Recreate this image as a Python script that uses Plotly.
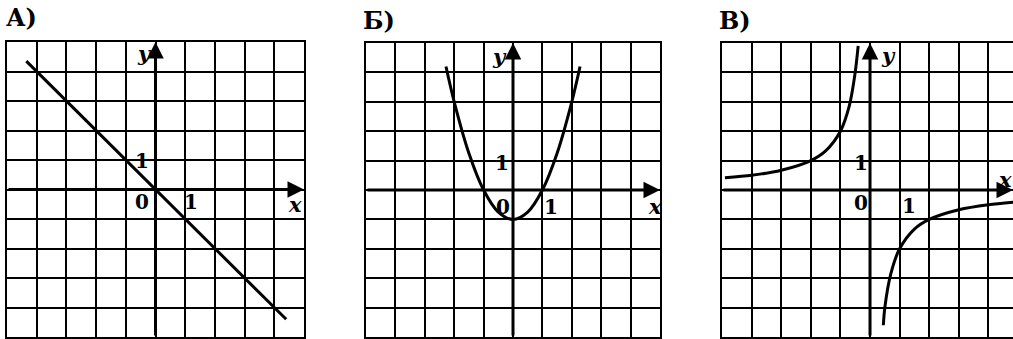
import plotly.graph_objects as go

# ---- data ----
panel_titles = ["А)", "Б)", "В)"]

# A) straight line
line_x = [-4.35, 4.4]
line_y = [4.35, -4.4]

# Б) parabola
par_x = [-2.28, -2.0, -1.5, -1.0, -0.5, 0.0, 0.5, 1.0, 1.5, 2.0, 2.28]
par_y = [4.2, 3.0, 1.25, 0.0, -0.75, -1.0, -0.75, 0.0, 1.25, 3.0, 4.2]

# В) hyperbola, two branches
hyp_left_x = [-4.9, -4.0, -3.0, -2.0, -1.5, -1.0, -0.7, -0.5, -0.4]
hyp_left_y = [0.42, 0.5, 0.67, 1.0, 1.33, 2.0, 2.86, 4.0, 4.9]
hyp_right_x = [0.45, 0.5, 0.7, 1.0, 1.5, 2.0, 3.0, 4.0, 4.9]
hyp_right_y = [-4.6, -4.0, -2.86, -2.0, -1.33, -1.0, -0.67, -0.5, -0.41]

x_ranges = [[-5, 5], [-5, 5], [-5, 4.83]]
y_range = [-5, 5]

W, H = 1013, 339
x_domains = [[7 / W, 304 / W], [366 / W, 660 / W], [722 / W, 1.0]]
y_domains = [[1 - 337 / H, 1 - 42 / H], [1 - 337 / H, 1 - 43 / H], [1 - 337 / H, 1 - 43 / H]]
title_pos = [(21, 18), (379, 21), (735, 21)]

# label positions in data units: (text, x, y, italic)
labels = [
    [("y", -0.37, 4.6, True), ("1", -0.44, 0.95, False), ("0", -0.44, -0.42, False),
     ("1", 1.2, -0.42, False), ("x", 4.7, -0.5, True)],
    [("y", -0.45, 4.55, True), ("1", -0.36, 0.93, False), ("0", -0.34, -0.57, False),
     ("1", 1.3, -0.57, False), ("x", 4.83, -0.55, True)],
    [("y", 0.62, 4.56, True), ("1", -0.32, 0.93, False), ("0", -0.32, -0.43, False),
     ("1", 1.3, -0.55, False), ("x", 4.55, 0.36, True)],
]

fig = go.Figure()
curve = dict(color="black", width=3)
fig.add_trace(go.Scatter(x=line_x, y=line_y, mode="lines", line=curve, xaxis="x", yaxis="y"))
fig.add_trace(go.Scatter(x=par_x, y=par_y, mode="lines", line=dict(curve, shape="spline", smoothing=1.0),
                         xaxis="x2", yaxis="y2"))
fig.add_trace(go.Scatter(x=hyp_left_x, y=hyp_left_y, mode="lines", line=dict(curve, shape="spline", smoothing=0.8),
                         xaxis="x3", yaxis="y3"))
fig.add_trace(go.Scatter(x=hyp_right_x, y=hyp_right_y, mode="lines", line=dict(curve, shape="spline", smoothing=0.8),
                         xaxis="x3", yaxis="y3"))

layout = dict(width=W, height=H, margin=dict(l=0, r=0, t=0, b=0),
              paper_bgcolor="white", plot_bgcolor="white", showlegend=False)
annotations = []
for i in range(3):
    sfx = "" if i == 0 else str(i + 1)
    xa = dict(domain=x_domains[i], range=x_ranges[i], showgrid=True, dtick=1, tick0=0,
              gridcolor="black", gridwidth=1.6, showline=True, mirror=True, linecolor="black",
              linewidth=1.6, zeroline=False, showticklabels=False, ticks="", anchor="y" + sfx,
              fixedrange=True)
    ya = dict(domain=y_domains[i], range=y_range, showgrid=True, dtick=1, tick0=0,
              gridcolor="black", gridwidth=1.6, showline=True, mirror=(i != 2), linecolor="black",
              linewidth=1.6, zeroline=False, showticklabels=False, ticks="", anchor="x" + sfx,
              fixedrange=True)
    layout["xaxis" + sfx] = xa
    layout["yaxis" + sfx] = ya
    xr, yr = "x" + sfx, "y" + sfx
    # axes with arrows
    annotations.append(dict(x=x_ranges[i][1], y=0, ax=x_ranges[i][0], ay=0, xref=xr, yref=yr,
                            axref=xr, ayref=yr, showarrow=True, arrowhead=2, arrowsize=1.1,
                            arrowwidth=3, arrowcolor="black", text="", standoff=0))
    annotations.append(dict(x=0, y=y_range[1], ax=0, ay=y_range[0], xref=xr, yref=yr,
                            axref=xr, ayref=yr, showarrow=True, arrowhead=2, arrowsize=1.1,
                            arrowwidth=3, arrowcolor="black", text="", standoff=0))
    for (t, lx, ly, it) in labels[i]:
        txt = "<b><i>%s</i></b>" % t if it else "<b>%s</b>" % t
        annotations.append(dict(x=lx, y=ly, xref=xr, yref=yr, text=txt, showarrow=False,
                                xanchor="center", yanchor="middle",
                                font=dict(family="DejaVu Serif", size=21 if it else 20, color="black"),
                                bgcolor="rgba(0,0,0,0)"))
    px, py = title_pos[i]
    annotations.append(dict(x=px / W, y=1 - py / H, xref="paper", yref="paper",
                            xanchor="center", yanchor="middle",
                            text="<b>%s</b>" % panel_titles[i], showarrow=False,
                            font=dict(family="DejaVu Serif", size=24, color="black")))
layout["annotations"] = annotations
fig.update_layout(**layout)
fig.write_html("out.html", config={"displayModeBar": False},
               post_script="document.body.style.margin='0';document.body.style.padding='0';"
                           "document.documentElement.style.overflow='hidden';")
